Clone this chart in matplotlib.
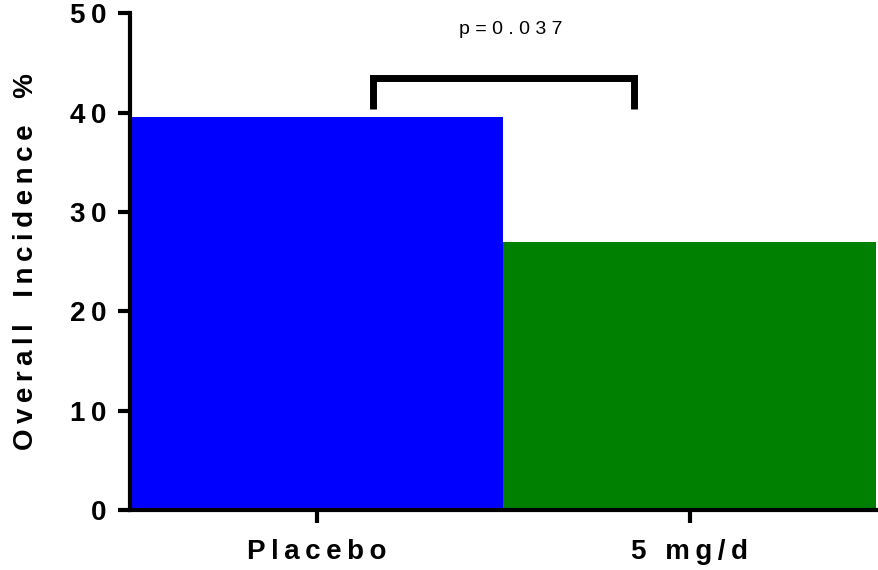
import matplotlib
matplotlib.use("Agg")
import matplotlib.pyplot as plt

groups = ["Placebo", "5 mg/d"]
incidence = [39.5, 27.0]
bar_colors = ["#0000ff", "#008000"]
yticks = [0, 10, 20, 30, 40, 50]
y_title = "Overall Incidence %"
p_label = "p=0.037"
bracket_x = [0.15, 0.85]
bracket_y = [40.4, 43.5]


def spaced(s, gap="\u2009"):
    # prism-style letter spacing
    return gap.join(s)


plt.rcParams['font.family'] = ['Liberation Sans', 'DejaVu Sans']

fig = plt.figure(figsize=(8.79, 5.70), dpi=100)
ax = fig.add_axes([0.148, 0.105, 0.849, 0.872])

x = list(range(len(groups)))
ax.bar(x, incidence, width=1.0, color=bar_colors, edgecolor="none", zorder=1)

ax.set_xlim(-0.5, 1.5)
ax.set_ylim(0, 50)
ax.set_yticks(yticks)
ax.set_yticklabels([spaced(str(t)) for t in yticks], fontweight="bold", fontsize=20)
ax.set_xticks(x)
ax.set_xticklabels([spaced(g) for g in groups], fontweight="bold", fontsize=20)
ax.set_ylabel(spaced(y_title).replace(" ", "  "), fontweight="bold", fontsize=20, labelpad=22)

for side in ["top", "right"]:
    ax.spines[side].set_visible(False)
for side in ["left", "bottom"]:
    ax.spines[side].set_linewidth(3)
ax.tick_params(axis="both", width=3, length=9)
ax.tick_params(axis="x", pad=12)
ax.tick_params(axis="y", pad=8)

# significance bracket
ax.plot([bracket_x[0], bracket_x[0], bracket_x[1], bracket_x[1]],
        [bracket_y[0], bracket_y[1], bracket_y[1], bracket_y[0]],
        color="black", lw=5, solid_capstyle="butt", solid_joinstyle="miter",
        clip_on=False, zorder=3)
ax.text(sum(bracket_x) / 2 + 0.02, 48.4, spaced(p_label, " "), ha="center", va="center", fontsize=14)

fig.savefig("out.png", dpi=100)
